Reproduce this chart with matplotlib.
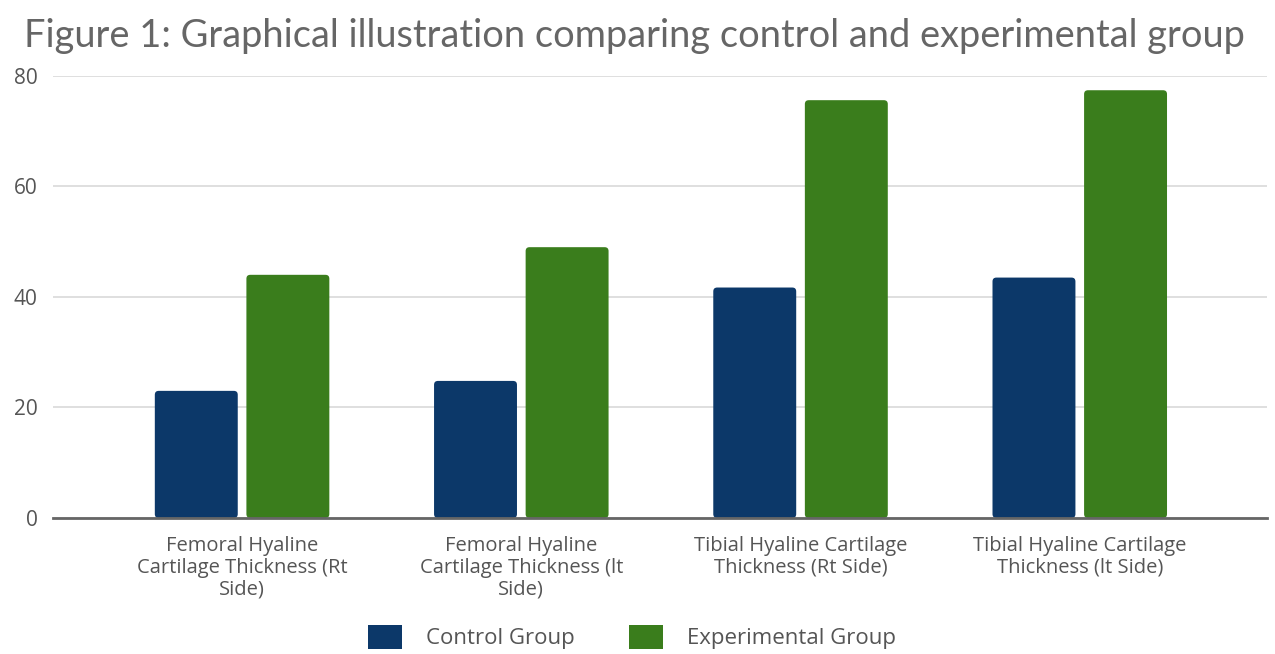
import numpy as np
import matplotlib.pyplot as plt
from matplotlib.patches import Patch, FancyBboxPatch

categories = [
    "Femoral Hyaline\nCartilage Thickness (Rt\nSide)",
    "Femoral Hyaline\nCartilage Thickness (lt\nSide)",
    "Tibial Hyaline Cartilage\nThickness (Rt Side)",
    "Tibial Hyaline Cartilage\nThickness (lt Side)",
]
control = [23.0, 24.8, 41.7, 43.5]
experimental = [44.0, 49.0, 75.6, 77.4]

navy = "#0c3869"
green = "#3a7d1c"
txt = "#555555"

fig = plt.figure(figsize=(12.75, 6.54), dpi=100)
ax = fig.add_axes([0.0416, 0.208, 0.952, 0.676])

x = np.arange(len(categories))
w = 0.297
off = 0.164
bars = list(ax.bar(x - off, control, w, color=navy, zorder=3)) + \
       list(ax.bar(x + off, experimental, w, color=green, zorder=3))

ax.set_xlim(-0.677, 3.67)
ax.set_ylim(0, 80)

# swap plain rectangles for slightly rounded ones
for b in bars:
    rb = FancyBboxPatch((b.get_x(), b.get_y()), b.get_width(), b.get_height(),
                        boxstyle="round,pad=0,rounding_size=0.014",
                        mutation_aspect=50, facecolor=b.get_facecolor(),
                        edgecolor="none", zorder=3)
    b.remove()
    ax.add_patch(rb)

ax.set_yticks([0, 20, 40, 60, 80])
ax.yaxis.grid(True, color="#d9d9d9", linewidth=1.2, zorder=0)
ax.set_axisbelow(True)
for s in ["top", "right", "left"]:
    ax.spines[s].set_visible(False)
ax.spines["bottom"].set_color("#666666")
ax.spines["bottom"].set_linewidth(2)
ax.spines["bottom"].set_zorder(4)
ax.tick_params(axis="both", length=0, colors=txt)
ax.tick_params(axis="y", pad=11, labelsize=15)
ax.tick_params(axis="x", pad=13, labelsize=14.5)
ax.set_xticks(x)
ax.set_xticklabels(categories, fontfamily="Open Sans", linespacing=1.1)
for lbl in ax.get_yticklabels():
    lbl.set_fontfamily("Open Sans")

fig.text(0.019, 0.945, "Figure 1: Graphical illustration comparing control and experimental group",
         fontsize=27.4, color="#666666", fontfamily="Lato", va="center", ha="left")

handles = [Patch(facecolor=navy, label="Control Group"),
           Patch(facecolor=green, label="Experimental Group")]
fig.legend(handles=handles, loc="center", bbox_to_anchor=(0.4957, 0.026), ncol=2,
           frameon=False, handlelength=1.53, handleheight=1.35, handletextpad=1.08,
           columnspacing=2.43, prop={"family": "Open Sans", "size": 16}, labelcolor=txt)

fig.savefig("out.png", dpi=100)
